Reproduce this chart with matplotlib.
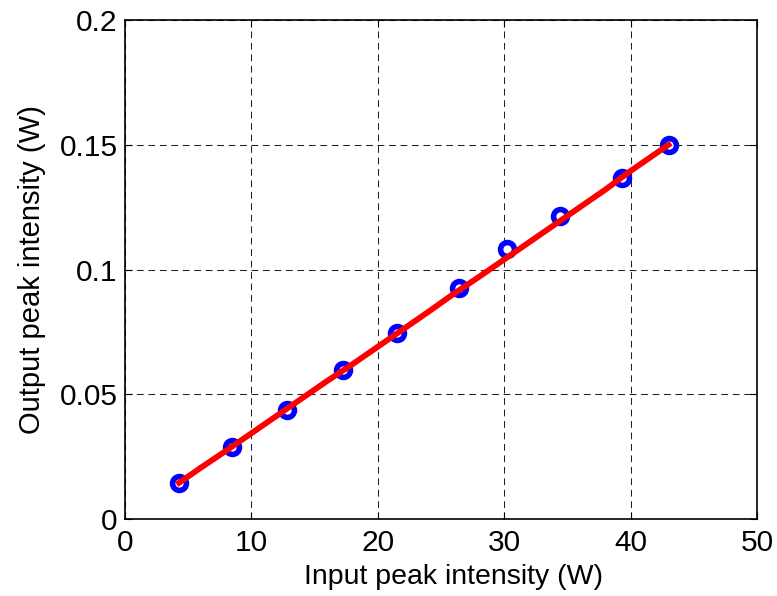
import matplotlib
matplotlib.use("Agg")
import matplotlib.pyplot as plt

plt.rcParams['font.family'] = ['Liberation Sans', 'DejaVu Sans']

# measured points (blue circles)
x_meas = [4.3, 8.5, 12.8, 17.25, 21.5, 26.45, 30.2, 34.45, 39.3, 43.05]
y_meas = [0.0143, 0.0289, 0.0438, 0.0598, 0.0747, 0.0925, 0.1083, 0.1213, 0.1368, 0.1501]

# simulated curve (red line)
x_sim = [4.3, 6, 8, 10, 12, 14, 16, 18, 20, 22, 24, 26, 28, 30, 32, 34, 36, 38, 40, 42, 43.0]
y_sim = [0.0145, 0.0205, 0.0273, 0.0343, 0.0413, 0.0483, 0.0553, 0.0620, 0.0690, 0.0760,
         0.0830, 0.0902, 0.0970, 0.1040, 0.1110, 0.1180, 0.1250, 0.1320, 0.1395, 0.1465, 0.1500]

fig = plt.figure(figsize=(7.77, 5.96), dpi=100)
ax = fig.add_axes([0.1605, 0.1292, 0.8138, 0.8372])

ax.plot(x_meas, y_meas, linestyle='none', marker='o', markersize=10,
        markerfacecolor='white', markeredgecolor='#0000ff', markeredgewidth=4, zorder=3)
ax.plot(x_sim, y_sim, color='#ff0000', linewidth=4.2, zorder=4)

ax.set_xlim(0, 50)
ax.set_ylim(0, 0.2)
ax.set_xticks([0, 10, 20, 30, 40, 50])
ax.set_yticks([0, 0.05, 0.1, 0.15, 0.2])
ax.set_yticklabels(['0', '0.05', '0.1', '0.15', '0.2'])
ax.grid(True, color='#222222', linestyle=(0, (6.5, 4.5)), linewidth=0.75)
ax.tick_params(direction='in', length=5, labelsize=21.5, top=True, right=True, pad=5)
ax.tick_params(axis='x', pad=7)
for s in ax.spines.values():
    s.set_linewidth(1.2)

ax.set_xlabel('Input peak intensity (W)', fontsize=20.5, labelpad=5, x=0.52)
ax.set_ylabel('Output peak intensity (W)', fontsize=21, labelpad=10)

fig.savefig('out.png', dpi=100)
